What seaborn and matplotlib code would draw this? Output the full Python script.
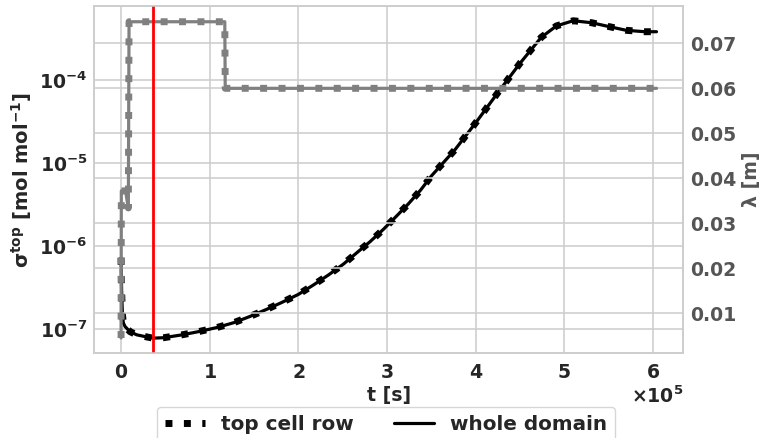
import matplotlib
matplotlib.use("Agg")
import matplotlib.pyplot as plt
import seaborn as sns
from matplotlib.lines import Line2D
from matplotlib.ticker import MultipleLocator, NullLocator

# sigma^top over time (s)
t_sigma = [0, 600, 1500, 2600, 4500, 10000, 17700, 27000, 36000, 48000,
           68000, 87000, 108000, 127000, 145000, 164000, 181000, 200000,
           217000, 234000, 251000, 266000, 281000, 296000, 310000, 324000,
           338000, 350000, 377000, 401000, 425000, 450000, 474000, 491000,
           510000, 531000, 551000, 570000, 591000, 604000]
sigma_top = [7.2e-7, 2.9e-7, 1.5e-7, 1.18e-7, 1.07e-7, 9.3e-8, 8.5e-8, 8.1e-8,
             7.75e-8, 7.85e-8, 8.47e-8, 9.27e-8, 1.04e-7, 1.19e-7, 1.41e-7,
             1.72e-7, 2.08e-7, 2.61e-7, 3.39e-7, 4.48e-7, 6.07e-7, 8.30e-7,
             1.13e-6, 1.59e-6, 2.25e-6, 3.21e-6, 4.73e-6, 6.97e-6, 1.46e-5,
             3.15e-5, 7.03e-5, 1.59e-4, 3.27e-4, 4.48e-4, 5.18e-4, 4.90e-4,
             4.39e-4, 3.97e-4, 3.82e-4, 3.82e-4]
sigma_whole = list(sigma_top)

# lambda over time (s)
t_lambda = [0, 300, 5000, 8200, 9000, 117000, 117500, 604000]
lambda_top = [0.0045, 0.0372, 0.0372, 0.0334, 0.0748, 0.0748, 0.0600, 0.0600]
lambda_whole = list(lambda_top)

t_event = 36000

series_labels = ["top cell row", "whole domain"]

sns.set_theme(style="whitegrid")
plt.rcParams.update({
    "font.family": ["DejaVu Sans"],
    "font.weight": "bold",
    "axes.labelweight": "bold",
    "mathtext.default": "regular",
    "axes.edgecolor": "0.8",
    "grid.color": "0.8",
    "grid.linewidth": 1.1,
    "axes.linewidth": 1.1,
})

fig = plt.figure(figsize=(7.66, 4.38), dpi=100)
ax1 = fig.add_axes([0.1231, 0.1934, 0.7689, 0.7929])
ax2 = ax1.twinx()
ax2.set_position([0.1231, 0.1934, 0.7689, 0.7929])

lambda_color = "gray"
lambda_text = "#555555"
dot_lw = 5.0
solid_lw = 2.3

# sigma on the left (log) axis
sns.lineplot(x=t_sigma, y=sigma_top, ax=ax1, color="black", linestyle=":",
             linewidth=dot_lw, estimator=None, sort=False, legend=False)
sns.lineplot(x=t_sigma, y=sigma_whole, ax=ax1, color="black", linestyle="-",
             linewidth=solid_lw, estimator=None, sort=False, legend=False)
ax1.set_yscale("log")
ax1.set_ylim(10 ** -7.293, 10 ** -3.108)
ax1.set_xlim(-30200, 634200)
ax1.yaxis.set_minor_locator(NullLocator())

# lambda on the right axis
sns.lineplot(x=t_lambda, y=lambda_top, ax=ax2, color=lambda_color, linestyle=":",
             linewidth=dot_lw, estimator=None, sort=False, legend=False)
sns.lineplot(x=t_lambda, y=lambda_whole, ax=ax2, color=lambda_color, linestyle="-",
             linewidth=solid_lw, estimator=None, sort=False, legend=False)
ax2.set_ylim(0.0011, 0.0783)
ax2.yaxis.set_major_locator(MultipleLocator(0.01))
ax2.axvline(t_event, color="red", linewidth=2.0)

ax1.ticklabel_format(axis="x", style="sci", scilimits=(0, 0), useMathText=True)
ax1.xaxis.get_offset_text().set_fontsize(13.6)
ax1.xaxis.get_offset_text().set_fontweight("bold")

ax1.tick_params(axis="x", which="both", length=0, pad=6.8, labelsize=13.6, labelcolor="0.15")
ax1.tick_params(axis="y", which="both", length=0, pad=5, labelsize=13.6, labelcolor="0.15")
ax2.tick_params(axis="y", which="both", length=0, pad=5, labelsize=13.6, labelcolor=lambda_text)
ax2.tick_params(axis="x", which="both", length=0)

ax1.set_xlabel("t [s]", fontsize=13.6, color="0.15", labelpad=3)
ax1.set_ylabel("σ$^{top}$ [mol mol$^{-1}$]", fontsize=14, color="0.15")
ax2.set_ylabel("λ [m]", fontsize=13.6, color=lambda_text, labelpad=4)

for ax in (ax1, ax2):
    for s in ax.spines.values():
        s.set_color("0.8")
        s.set_linewidth(1.1)

handles = [
    Line2D([], [], color="black", linestyle=":", linewidth=dot_lw),
    Line2D([], [], color="black", linestyle="-", linewidth=solid_lw),
]
fig.legend(handles, series_labels, loc="upper center",
           bbox_to_anchor=(0.5037, 0.070), ncol=2, fontsize=14.4,
           borderaxespad=0, frameon=True)

fig.savefig("out.png", dpi=100)
